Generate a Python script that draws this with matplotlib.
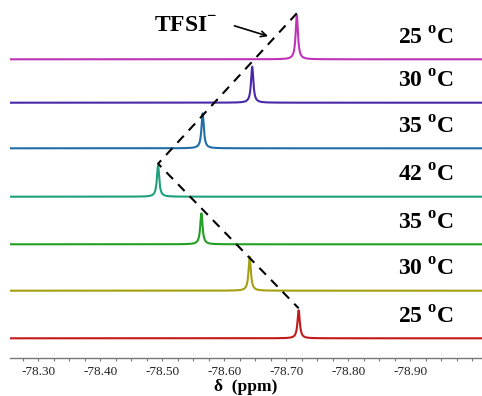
import matplotlib
matplotlib.use("Agg")
import matplotlib.pyplot as plt
from matplotlib.ticker import MultipleLocator, FixedLocator, FormatStrFormatter
import numpy as np

plt.rcParams["font.family"] = ["Liberation Serif", "DejaVu Serif"]
plt.rcParams["mathtext.fontset"] = "custom"
plt.rcParams["mathtext.rm"] = "Liberation Serif"
plt.rcParams["mathtext.bf"] = "Liberation Serif:bold"

# spectra, top to bottom
temps = ["25", "30", "35", "42", "35", "30", "25"]
shifts = [-78.717, -78.645, -78.565, -78.493, -78.563, -78.641, -78.720]  # ppm
heights = [44, 36, 35, 31, 31, 34, 28]
offsets = [298.7, 255.3, 209.7, 161.3, 113.7, 67.3, 19.7]
colors = ["#c033b8", "#4a28a8", "#1f6ea8", "#1fa07c", "#22a022", "#a3a012", "#c21a1a"]
tick_ppm = [-78.30, -78.40, -78.50, -78.60, -78.70, -78.80, -78.90]

fwhm = 0.0045
ppm = np.linspace(-78.254, -79.016, 6000)

fig = plt.figure(figsize=(4.82, 3.96), dpi=100)
ax = fig.add_axes([10 / 482, 38 / 396, 472 / 482, 358 / 396])

for d, h, off, c in zip(shifts, heights, offsets, colors):
    g = fwhm / 2
    y = h * g**2 / ((ppm - d) ** 2 + g**2)
    ax.plot(ppm, off + y, color=c, lw=1.5, solid_capstyle="butt")

# dashed guide through apexes of top, 42 oC and bottom spectra
idx = [0, 3, 6]
gx = [shifts[i] for i in idx]
gy = [offsets[i] + heights[i] + 2 for i in idx]
ax.plot(gx, gy, color="black", lw=1.5, dashes=(4.5, 3.5))

for t, off in zip(temps, offsets):
    ax.text(-78.97, off + 21, t + r" $^{\mathbf{o}}$C", ha="right", va="center",
            fontsize=17, fontweight="bold")

ax.text(-78.486, 332, r"TFSI$^{\mathbf{-}}$", ha="left", va="center",
        fontsize=17, fontweight="bold")
ax.annotate("", xy=(-78.675, 321), xytext=(-78.612, 333),
            arrowprops=dict(arrowstyle="->", color="black", lw=1.2))

ax.set_xlim(-78.254, -79.016)
ax.set_ylim(0, 358)
ax.xaxis.set_major_locator(FixedLocator(tick_ppm))
ax.xaxis.set_minor_locator(MultipleLocator(0.025))
ax.xaxis.set_major_formatter(FormatStrFormatter("%.2f"))
ax.set_yticks([])
for s in ["left", "right", "top"]:
    ax.spines[s].set_visible(False)
ax.spines["bottom"].set_color("#777777")
ax.spines["bottom"].set_linewidth(1.0)
ax.tick_params(axis="x", which="both", direction="out", color="#777777",
               length=2.5, width=0.8, labelsize=9.5, labelcolor="#222222", pad=3)
ax.set_xlabel("δ  (ppm)", fontsize=12.5, fontweight="bold", labelpad=1)

fig.savefig("out.png", dpi=100)
